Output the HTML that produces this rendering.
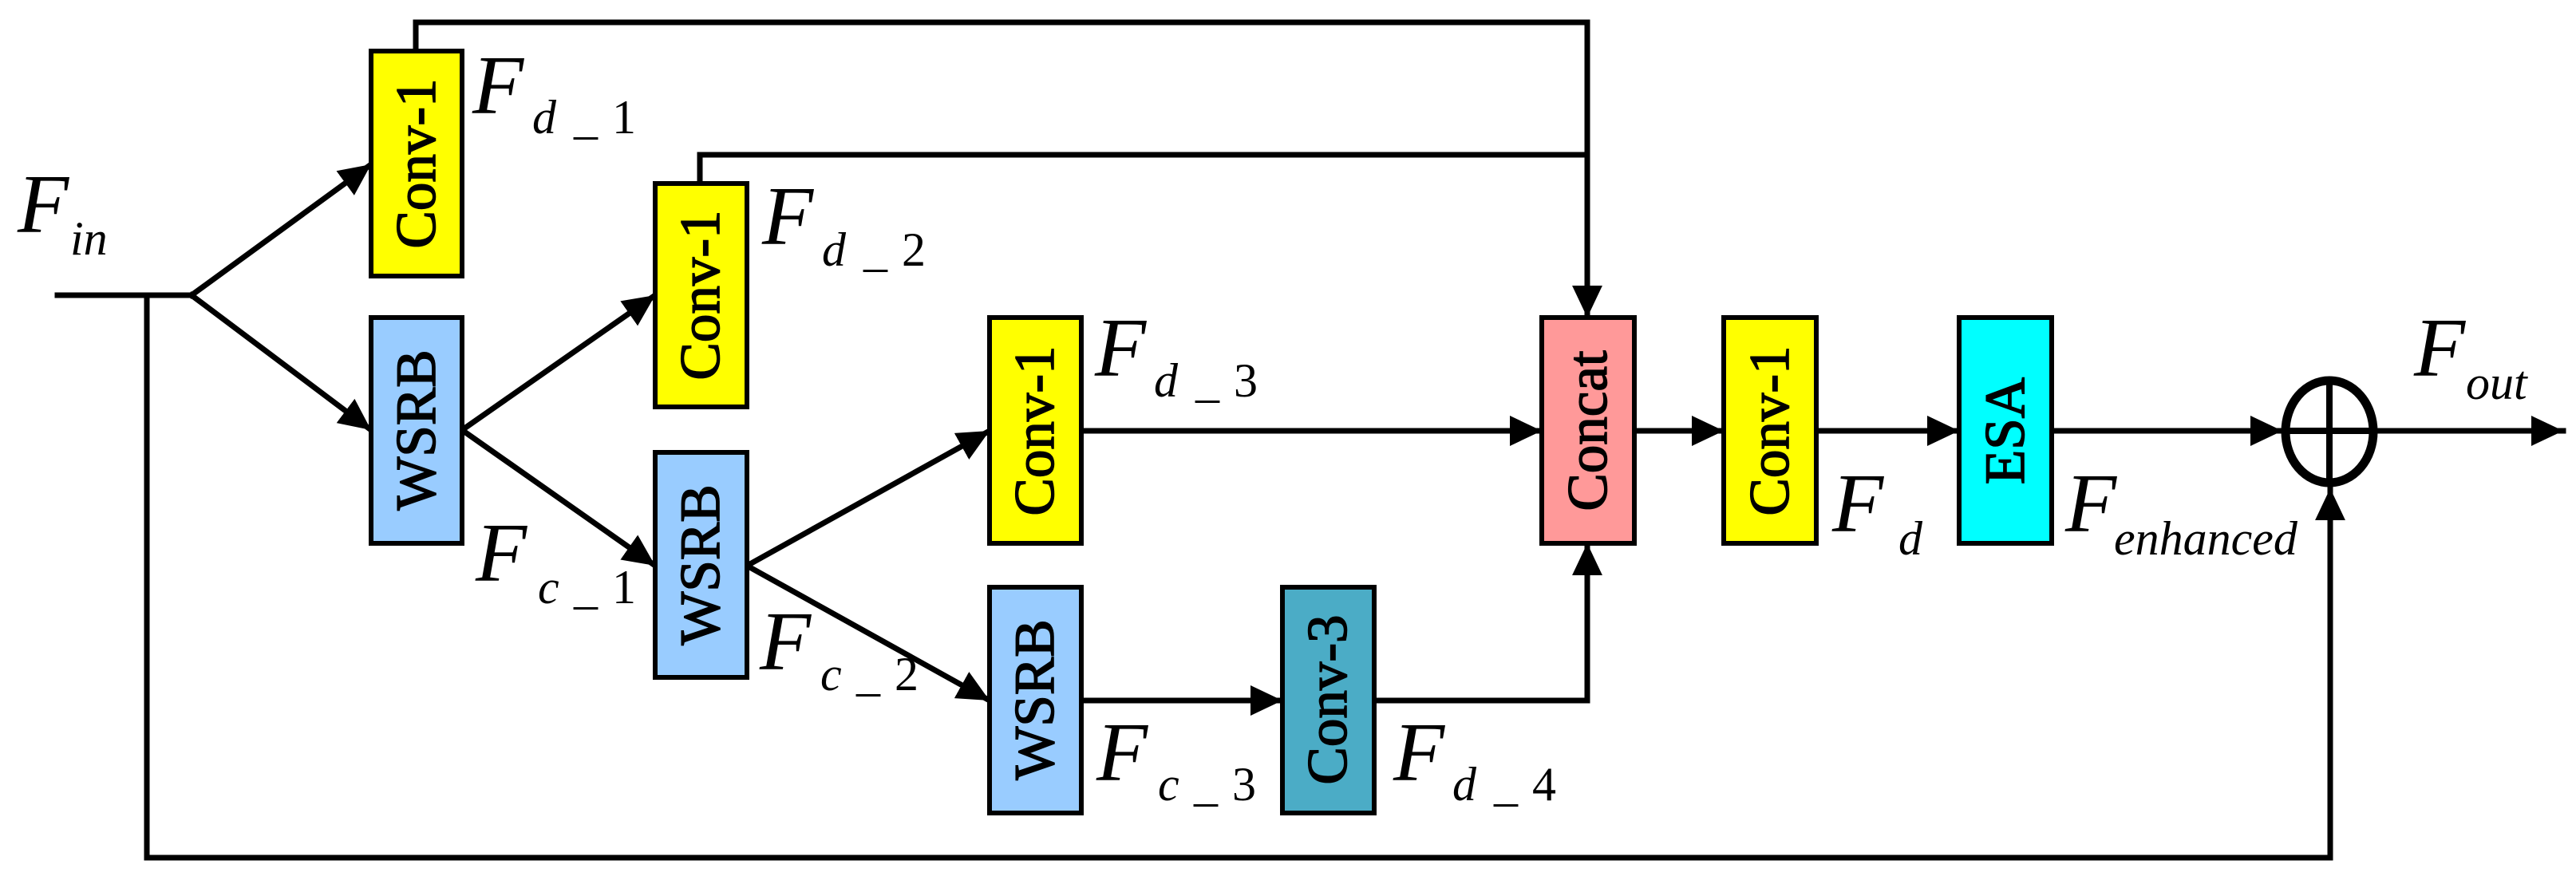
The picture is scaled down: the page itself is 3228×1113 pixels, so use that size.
<!DOCTYPE html>
<html><head><meta charset="utf-8"><style>
html,body{margin:0;padding:0;background:#fff;}
svg{display:block;}
.bt{font-family:"Liberation Serif",serif;font-size:71px;fill:#000;stroke:#000;stroke-width:1.6px;}
.F{font-family:"Liberation Serif","DejaVu Serif",serif;font-style:italic;font-size:105px;fill:#000;}
.s{font-family:"Liberation Serif","DejaVu Serif",serif;font-style:italic;font-size:60px;fill:#000;}
.n{font-family:"Liberation Serif",serif;font-size:60px;fill:#000;}
</style></head><body>
<svg width="3228" height="1113" viewBox="0 0 3228 1113" xmlns="http://www.w3.org/2000/svg">
<defs>
<marker id="a" markerUnits="userSpaceOnUse" markerWidth="40" markerHeight="40" viewBox="0 0 38 36" refX="38" refY="18" orient="auto">
<path d="M0,0 L38,18 L0,36 Z" fill="#000"/>
</marker>
</defs>
<g stroke="#000" stroke-width="7" fill="none" stroke-linecap="square">
<line x1="72" y1="370" x2="240" y2="370"/>
<polyline points="184,370 184,1075 2920,1075 2920,612" marker-end="url(#a)"/>
<line x1="240" y1="370" x2="465" y2="206" marker-end="url(#a)"/>
<line x1="240" y1="370" x2="465" y2="539" marker-end="url(#a)"/>
<polyline points="521,64 521,28 1989,28 1989,398" marker-end="url(#a)"/>
<polyline points="877,230 877,194 1989,194"/>
<line x1="579" y1="539" x2="821" y2="370" marker-end="url(#a)"/>
<line x1="579" y1="539" x2="821" y2="709" marker-end="url(#a)"/>
<line x1="936" y1="709" x2="1240" y2="540" marker-end="url(#a)"/>
<line x1="936" y1="709" x2="1240" y2="878" marker-end="url(#a)"/>
<line x1="1355" y1="540" x2="1932" y2="540" marker-end="url(#a)"/>
<line x1="1355" y1="878" x2="1607" y2="878" marker-end="url(#a)"/>
<polyline points="1722,878 1989,878 1989,681" marker-end="url(#a)"/>
<line x1="2048" y1="540" x2="2160" y2="540" marker-end="url(#a)"/>
<line x1="2276" y1="540" x2="2455" y2="540" marker-end="url(#a)"/>
<line x1="2571" y1="540" x2="2860" y2="540" marker-end="url(#a)"/>
<line x1="2979" y1="540" x2="3212" y2="540" marker-end="url(#a)"/>
</g>
<ellipse cx="2919" cy="541" rx="55" ry="64" fill="none" stroke="#000" stroke-width="11"/>
<line x1="2864" y1="540" x2="2974" y2="540" stroke="#000" stroke-width="8"/>
<line x1="2919" y1="477" x2="2919" y2="605" stroke="#000" stroke-width="8"/>
<g stroke="#000" stroke-width="6">
<rect x="465" y="64" width="114" height="282" fill="#FFFF00"/>
<rect x="465" y="398" width="114" height="283" fill="#99CCFF"/>
<rect x="821" y="230" width="115" height="280" fill="#FFFF00"/>
<rect x="821" y="567" width="115" height="282" fill="#99CCFF"/>
<rect x="1240" y="398" width="115" height="283" fill="#FFFF00"/>
<rect x="1240" y="736" width="115" height="283" fill="#99CCFF"/>
<rect x="1607" y="736" width="115" height="283" fill="#4BACC6"/>
<rect x="1932" y="398" width="116" height="283" fill="#FF9999"/>
<rect x="2160" y="398" width="116" height="283" fill="#FFFF00"/>
<rect x="2455" y="398" width="116" height="283" fill="#00FFFF"/>
</g>
<g class="bt" text-anchor="middle" dominant-baseline="central">
<text transform="translate(522,205) rotate(-90)">Conv-1</text>
<text transform="translate(522,539) rotate(-90)">WSRB</text>
<text transform="translate(878,370) rotate(-90)">Conv-1</text>
<text transform="translate(878,708) rotate(-90)">WSRB</text>
<text transform="translate(1297,540) rotate(-90)">Conv-1</text>
<text transform="translate(1297,877) rotate(-90)">WSRB</text>
<text transform="translate(1664,877) rotate(-90)">Conv-3</text>
<text transform="translate(1990,540) rotate(-90)">Concat</text>
<text transform="translate(2218,540) rotate(-90)">Conv-1</text>
<text transform="translate(2513,540) rotate(-90)">ESA</text>
</g>
<text class="F" x="22" y="291">F</text><text class="s" x="88" y="319">in</text>
<text class="F" x="592" y="142">F</text><text class="s" x="667" y="167">d</text><text class="n" x="719" y="167">_</text><text class="n" x="767" y="167">1</text>
<text class="F" x="596" y="728">F</text><text class="s" x="674" y="756">c</text><text class="n" x="719" y="756">_</text><text class="n" x="767" y="756">1</text>
<text class="F" x="955" y="306">F</text><text class="s" x="1030" y="333">d</text><text class="n" x="1082" y="333">_</text><text class="n" x="1130" y="333">2</text>
<text class="F" x="952" y="839">F</text><text class="s" x="1028" y="865">c</text><text class="n" x="1073" y="865">_</text><text class="n" x="1121" y="865">2</text>
<text class="F" x="1372" y="471">F</text><text class="s" x="1446" y="497">d</text><text class="n" x="1498" y="497">_</text><text class="n" x="1546" y="497">3</text>
<text class="F" x="1374" y="978">F</text><text class="s" x="1451" y="1003">c</text><text class="n" x="1496" y="1003">_</text><text class="n" x="1544" y="1003">3</text>
<text class="F" x="1746" y="978">F</text><text class="s" x="1820" y="1003">d</text><text class="n" x="1872" y="1003">_</text><text class="n" x="1920" y="1003">4</text>
<text class="F" x="2296" y="666">F</text><text class="s" x="2379" y="695">d</text>
<text class="F" x="2588" y="666">F</text><text class="s" x="2649" y="695">enhanced</text>
<text class="F" x="3025" y="471">F</text><text class="s" x="3090" y="500">out</text>
</svg>
</body></html>
